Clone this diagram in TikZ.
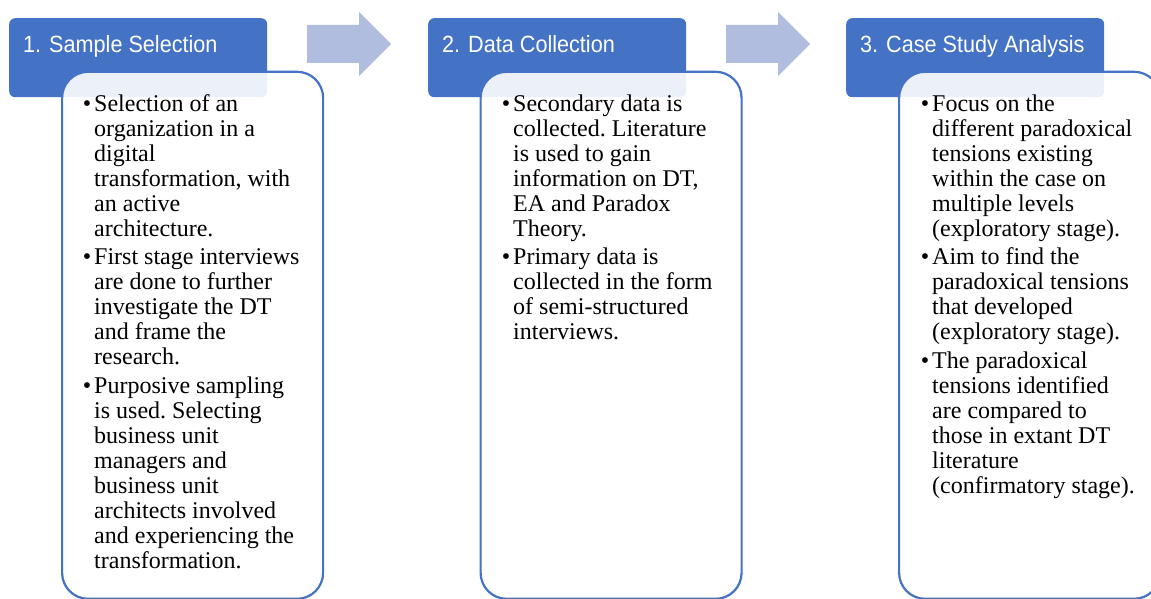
\documentclass[tikz,border=0pt]{standalone}
\usepackage{fontspec}
\usepackage{graphicx}
\setmainfont{Liberation Serif}
\newfontfamily\hdrfont{Liberation Sans}
\definecolor{hdrblue}{HTML}{4472C4}
\definecolor{arrowblue}{HTML}{B0BDDF}
\newcommand{\bitem}[1]{\par\noindent\llap{\textbullet\hspace{3pt}}#1}
\newcommand{\bodytext}[1]{\parbox[t]{250pt}{\fontsize{24}{25}\selectfont\frenchspacing\raggedright\setlength{\parskip}{3.3pt}#1}}
\tikzset{
  hdr/.style={fill=hdrblue, draw=none, rounded corners=6pt, anchor=north west,
    minimum width=258pt, minimum height=79pt, inner sep=0pt},
  hdrtext/.style={anchor=base west, inner sep=0pt, text=white,
    font=\hdrfont\fontsize{23.5}{26}\selectfont},
  card/.style={fill=white, fill opacity=0.9, draw=hdrblue, draw opacity=1,
    line width=2.2pt, rounded corners=26pt, anchor=north west,
    minimum width=261pt, minimum height=527pt, inner sep=0pt},
  bodynode/.style={anchor=base west, inner sep=0pt, text=black},
  blockarrow/.style={fill=arrowblue, draw=none}
}
\begin{document}
\begin{tikzpicture}[x=1pt,y=-1pt]
\useasboundingbox (0,0) rectangle (1151,599);
% block arrows
\fill[blockarrow] (307,25) -- (359,25) -- (359,12) -- (391,44) -- (359,76) -- (359,63) -- (307,63) -- cycle;
\fill[blockarrow] (726,25) -- (778,25) -- (778,12) -- (810,44) -- (778,76) -- (778,63) -- (726,63) -- cycle;
% column 1
\node[hdr] (h1) at (9,18) {};
\node[hdrtext] (t1) at (23,53) {\scalebox{0.92}[1]{1. Sample Selection}};
\node[card] (c1) at (61,70.7) {};
\node[bodynode] (b1) at (94,111.5) {\bodytext{%
\bitem{Selection of an\\organization in a\\digital\\transformation, with\\an active\\architecture.}
\bitem{First stage interviews\\are done to further\\investigate the DT\\and frame the\\research.}
\bitem{Purposive sampling\\is used. Selecting\\business unit\\managers and\\business unit\\architects involved\\and experiencing the\\transformation.}}};
% column 2
\node[hdr] (h2) at (428,18) {};
\node[hdrtext] (t2) at (442,53) {\scalebox{0.92}[1]{2. Data Collection}};
\node[card] (c2) at (479.5,70.7) {};
\node[bodynode] (b2) at (513,111.5) {\bodytext{%
\bitem{Secondary data is\\collected. Literature\\is used to gain\\information on DT,\\EA and Paradox\\Theory.}
\bitem{Primary data is\\collected in the form\\of semi-structured\\interviews.}}};
% column 3
\node[hdr] (h3) at (846,18) {};
\node[hdrtext] (t3) at (860,53) {\scalebox{0.92}[1]{3. Case Study Analysis}};
\node[card] (c3) at (898,70.7) {};
\node[bodynode] (b3) at (932,111.5) {\bodytext{%
\bitem{Focus on the\\different paradoxical\\tensions existing\\within the case on\\multiple levels\\(exploratory stage).}
\bitem{Aim to find the\\paradoxical tensions\\that developed\\(exploratory stage).}
\bitem{The paradoxical\\tensions identified\\are compared to\\those in extant DT\\literature\\(confirmatory stage).}}};
\end{tikzpicture}
\end{document}
